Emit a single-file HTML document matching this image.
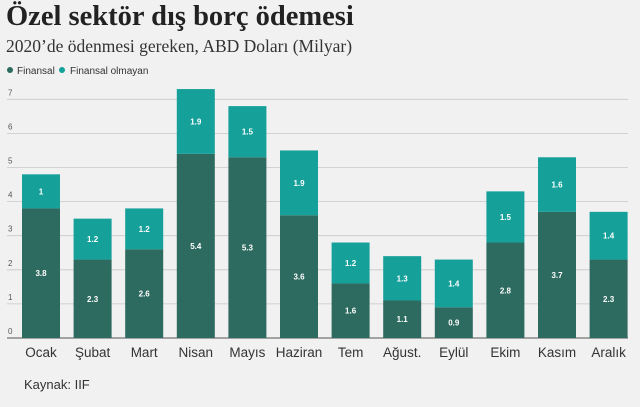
<!DOCTYPE html>
<html><head><meta charset="utf-8"><style>
body{margin:0;width:640px;height:407px;background:#f1f1f1;overflow:hidden;font-family:"Liberation Sans",sans-serif}
#title{position:absolute;left:6px;top:1px;font:bold 28.5px "Liberation Serif",serif;color:#222;margin:0}
#sub{position:absolute;left:6px;top:36px;font:17.5px "Liberation Serif",serif;color:#333}
#src{position:absolute;left:24px;top:377px;font:13px "Liberation Sans",sans-serif;color:#333}
svg{position:absolute;left:0;top:0}
</style></head><body>
<h1 id="title">Özel sektör dış borç ödemesi</h1>
<div id="sub">2020’de ödenmesi gereken, ABD Doları (Milyar)</div>
<div id="src">Kaynak: IIF</div>
<svg id="chart" width="640" height="407"></svg>
<script>
const categories=["Ocak","Şubat","Mart","Nisan","Mayıs","Haziran","Tem","Ağust.","Eylül","Ekim","Kasım","Aralık"];
const finansal=[3.8,2.3,2.6,5.4,5.3,3.6,1.6,1.1,0.9,2.8,3.7,2.3];
const finansalOlmayan=[1,1.2,1.2,1.9,1.5,1.9,1.2,1.3,1.4,1.5,1.6,1.4];
const yTicks=[0,1,2,3,4,5,6,7];
const NS="http://www.w3.org/2000/svg";
const svg=document.getElementById('chart');
const y0=338,unit=34.1,x0=22,step=51.6,bw=38;
const y=v=>y0-v*unit, x=i=>x0+i*step;
function mk(t,a,txt){const e=document.createElementNS(NS,t);for(const k in a)e.setAttribute(k,a[k]);if(txt!=null)e.textContent=txt;svg.appendChild(e);return e;}
let e=mk('circle',{cx:10,cy:70,r:3,fill:'#2d6a5f'});

e=mk('text',{x:17,y:74,'font-size':10,fill:'#333'},'Finansal');

e=mk('circle',{cx:62,cy:70,r:3,fill:'#15a09a'});

e=mk('text',{x:70,y:74,'font-size':10,fill:'#333'},'Finansal olmayan');

yTicks.forEach(t=>{
 e=mk('line',{x1:7,x2:628,y1:y(t),y2:y(t),stroke:t?'#c8c8c8':'#555','stroke-width':t?0.8:1});
 
 e=mk('text',{x:8,y:y(t)-4,'font-size':8,fill:'#555'},t);
 
});
categories.forEach((c,i)=>{
 const f=finansal[i],n=finansalOlmayan[i],cx=x(i)+bw/2;
 e=mk('rect',{x:x(i),y:y(f),width:bw,height:f*unit,fill:'#2d6a5f'});
 
 e=mk('rect',{x:x(i),y:y(f+n),width:bw,height:n*unit,fill:'#15a09a'});
 
 e=mk('text',{x:cx,y:y(f/2)+3,'font-size':8,'font-weight':'bold',fill:'#fff','text-anchor':'middle'},f);
 
 e=mk('text',{x:cx,y:y(f+n/2)+3,'font-size':8,'font-weight':'bold',fill:'#fff','text-anchor':'middle'},n);
 
 e=mk('text',{x:cx,y:357,'font-size':13.5,fill:'#333','text-anchor':'middle'},c);
 
});
</script>
</body></html>
